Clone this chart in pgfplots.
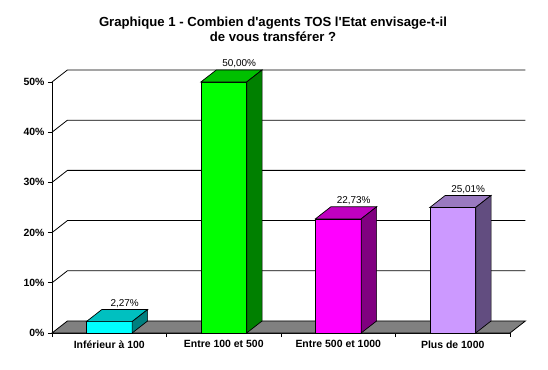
\documentclass[border=0pt]{standalone}
\usepackage{pgfplots}
\pgfplotsset{compat=1.18}
\usepackage{fontspec}
\setmainfont{Liberation Sans}
\definecolor{c1f}{HTML}{00FFFF}\definecolor{c1t}{HTML}{00C0C0}\definecolor{c1s}{HTML}{008080}
\definecolor{c2f}{HTML}{00FF00}\definecolor{c2t}{HTML}{00C000}\definecolor{c2s}{HTML}{008000}
\definecolor{c3f}{HTML}{FF00FF}\definecolor{c3t}{HTML}{C000C0}\definecolor{c3s}{HTML}{800080}
\definecolor{c4f}{HTML}{CC99FF}\definecolor{c4t}{HTML}{9A7AC0}\definecolor{c4s}{HTML}{624D80}
\definecolor{floorgray}{HTML}{808080}
\def\dx{0.135}
\def\dy{2.4}
\newcommand\tdbar[6]{%
  \addplot[fill=#3,draw=black,line width=0.7pt] coordinates {({#1-0.2},0) ({#1+0.2},0) ({#1+0.2},#2) ({#1-0.2},#2)} --cycle;
  \addplot[fill=#4,draw=black,line width=0.7pt] coordinates {({#1-0.2},#2) ({#1+0.2},#2) ({#1+0.2+\dx},{#2+\dy}) ({#1-0.2+\dx},{#2+\dy})} --cycle;
  \addplot[fill=#5,draw=black,line width=0.7pt] coordinates {({#1+0.2},0) ({#1+0.2+\dx},\dy) ({#1+0.2+\dx},{#2+\dy}) ({#1+0.2},#2)} --cycle;
  \node[anchor=south,inner sep=1.5bp,font=\fontsize{10}{12}\selectfont] at (axis cs:{#1+\dx},{#2+\dy}) {#6};
}
\begin{document}
\begin{tikzpicture}
\path[use as bounding box] (0,0) rectangle (548bp,370bp);
\node[anchor=base,font=\bfseries\fontsize{13.2}{15}\selectfont] at (273bp,343bp) {Graphique 1 - Combien d\textquotesingle agents TOS l\textquotesingle Etat envisage-t-il};
\node[anchor=base,font=\bfseries\fontsize{13.2}{15}\selectfont] at (273bp,328bp) {de vous transférer ?};
\begin{axis}[
  at={(52bp,37bp)}, anchor=south west,
  scale only axis, width=458bp, height=251bp,
  xmin=0, xmax=4, ymin=0, ymax=50, clip=false,
  axis lines=left, axis line style={-,black,line width=0.8pt},
  tick align=outside, major tick length=4bp,
  tick style={black,line width=0.8pt},
  xtick={0,1,2,3,4}, xticklabels={,,,,},
  extra x ticks={0.5,1.5,2.5,3.5},
  extra x tick labels={Inférieur à 100,Entre 100 et 500,Entre 500 et 1000,Plus de 1000},
  extra x tick style={major tick length=0pt, xticklabel style={yshift=-4bp}},
  xticklabel style={font=\bfseries\fontsize{10.5}{12}\selectfont},
  ytick={0,10,20,30,40,50},
  yticklabel={\pgfmathprintnumber{\tick}\%},
  yticklabel style={font=\bfseries\fontsize{10.5}{12}\selectfont},
  /pgf/number format/assume math mode=true,
]
% side wall diagonals and back gridlines
\addplot[black,line width=0.8pt] coordinates {(0,10) (\dx,{10+\dy}) ({4+\dx},{10+\dy})};
\addplot[black,line width=0.8pt] coordinates {(0,20) (\dx,{20+\dy}) ({4+\dx},{20+\dy})};
\addplot[black,line width=0.8pt] coordinates {(0,30) (\dx,{30+\dy}) ({4+\dx},{30+\dy})};
\addplot[black,line width=0.8pt] coordinates {(0,40) (\dx,{40+\dy}) ({4+\dx},{40+\dy})};
\addplot[black,line width=0.8pt] coordinates {(0,50) (\dx,{50+\dy}) ({4+\dx},{50+\dy})};
% floor
\addplot[fill=floorgray,draw=black,line width=0.8pt] coordinates {(0,0) (4,0) ({4+\dx},\dy) (\dx,\dy)} --cycle;
% bars
\tdbar{0.5}{2.27}{c1f}{c1t}{c1s}{2,27\%}
\tdbar{1.5}{50.00}{c2f}{c2t}{c2s}{50,00\%}
\tdbar{2.5}{22.73}{c3f}{c3t}{c3s}{22,73\%}
\tdbar{3.5}{25.01}{c4f}{c4t}{c4s}{25,01\%}
\end{axis}
\end{tikzpicture}
\end{document}
